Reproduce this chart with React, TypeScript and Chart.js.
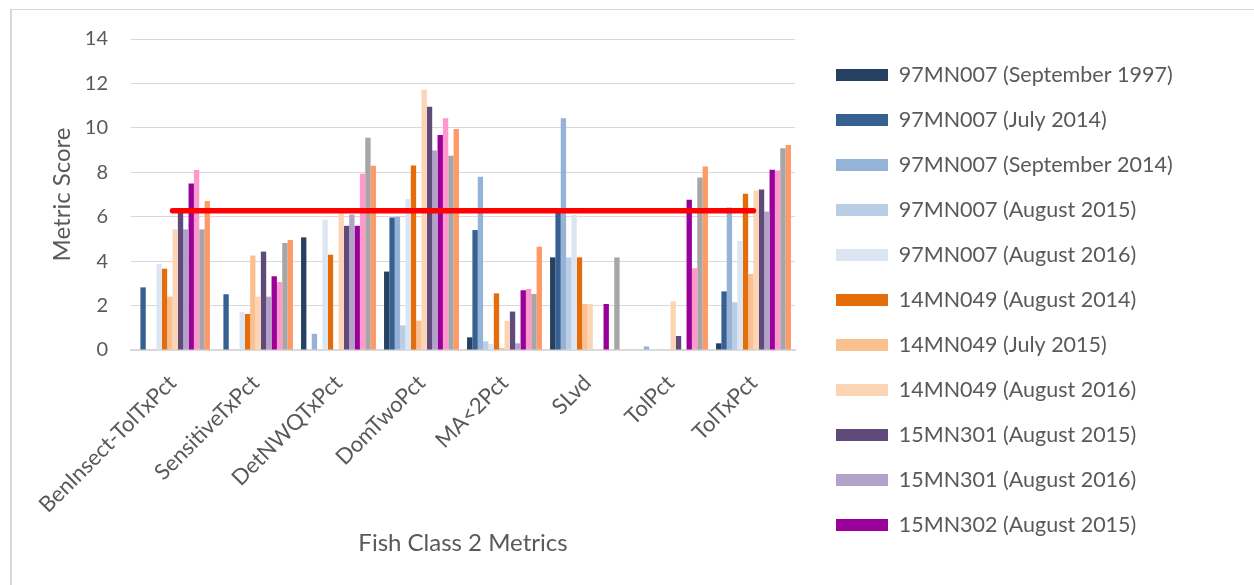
import React, { useEffect, useRef } from "react";
import { Chart, registerables } from "chart.js";

Chart.register(...registerables);

const categories = [
  "BenInsect-TolTxPct",
  "SensitiveTxPct",
  "DetNWQTxPct",
  "DomTwoPct",
  "MA<2Pct",
  "SLvd",
  "TolPct",
  "TolTxPct",
];

const seriesLabels = [
  "97MN007 (September 1997)",
  "97MN007 (July 2014)",
  "97MN007 (September 2014)",
  "97MN007 (August 2015)",
  "97MN007 (August 2016)",
  "14MN049 (August 2014)",
  "14MN049 (July 2015)",
  "14MN049 (August 2016)",
  "15MN301 (August 2015)",
  "15MN301 (August 2016)",
  "15MN302 (August 2015)",
  "Series 12",
  "Series 13",
  "Series 14",
];

const seriesColors = [
  "#254061",
  "#376092",
  "#95b3d7",
  "#b9cde5",
  "#dce6f2",
  "#e46c0a",
  "#fac090",
  "#fcd5b5",
  "#604a7b",
  "#b3a2c7",
  "#990099",
  "#ff99cc",
  "#a6a6a6",
  "#ff9966",
];

const s97Sep1997 = [0, 0, 5.07, 3.53, 0.57, 4.17, 0, 0.3];
const s97Jul2014 = [2.82, 2.51, 0, 5.96, 5.4, 6.2, 0, 2.64];
const s97Sep2014 = [0, 0, 0.73, 6.0, 7.8, 10.43, 0.16, 6.42];
const s97Aug2015 = [0, 0, 0, 1.11, 0.39, 4.17, 0, 2.15];
const s97Aug2016 = [3.87, 1.71, 5.86, 6.8, 0.27, 6.08, 0, 4.91];
const s14Aug2014 = [3.66, 1.62, 4.29, 8.3, 2.55, 4.17, 0, 7.03];
const s14Jul2015 = [2.4, 4.25, 0, 1.32, 0.09, 2.07, 0, 3.42];
const s14Aug2016 = [5.43, 2.4, 6.2, 11.71, 1.31, 2.07, 2.19, 7.18];
const s301Aug2015 = [6.2, 4.43, 5.59, 10.95, 1.73, 0, 0.63, 7.22];
const s301Aug2016 = [5.43, 2.4, 6.1, 8.98, 0.3, 0, 0, 6.23];
const s302Aug2015 = [7.5, 3.32, 5.59, 9.68, 2.69, 2.07, 6.76, 8.11];
const series12 = [8.1, 3.06, 7.93, 10.43, 2.75, 0, 3.68, 8.08];
const series13 = [5.43, 4.82, 9.56, 8.74, 2.52, 4.17, 7.76, 9.08];
const series14 = [6.71, 4.95, 8.29, 9.95, 4.65, 0, 8.26, 9.23];

const seriesValues = [
  s97Sep1997,
  s97Jul2014,
  s97Sep2014,
  s97Aug2015,
  s97Aug2016,
  s14Aug2014,
  s14Jul2015,
  s14Aug2016,
  s301Aug2015,
  s301Aug2016,
  s302Aug2015,
  series12,
  series13,
  series14,
];

const thresholdValue = 6.27;
const thresholdLine = categories.map(() => thresholdValue);

const yTicks = [0, 2, 4, 6, 8, 10, 12, 14];

const FONT = "Lato, 'Noto Sans', sans-serif";
const TEXT = "#595959";
const GRID = "#d9d9d9";
const W = 1254;
const H = 585;
const LEGEND_W = 441.5;

const borderPlugin = {
  id: "outerBorder",
  beforeLayout(chart: any) {
    const lg = chart.legend;
    if (lg && !lg.__patched) {
      const orig = lg.fit.bind(lg);
      lg.fit = function () {
        orig();
        this.width = LEGEND_W;
      };
      lg.__patched = true;
    }
  },
  beforeDraw(chart: any) {
    const ctx = chart.ctx;
    ctx.save();
    ctx.fillStyle = "#ffffff";
    ctx.fillRect(0, 0, W, H);
    ctx.strokeStyle = GRID;
    ctx.lineWidth = 2;
    ctx.beginPath();
    ctx.moveTo(11, H);
    ctx.lineTo(11, 9.5);
    ctx.stroke();
    ctx.lineWidth = 1;
    ctx.beginPath();
    ctx.moveTo(10, 9.5);
    ctx.lineTo(W, 9.5);
    ctx.stroke();
    ctx.restore();
  },
};

export default function App() {
  const canvasRef = useRef<HTMLCanvasElement | null>(null);

  useEffect(() => {
    if (!canvasRef.current) return;
    const barSets = seriesValues.map((vals, i) => ({
      type: "bar" as const,
      label: seriesLabels[i],
      data: vals,
      backgroundColor: seriesColors[i],
      borderWidth: 0,
      categoryPercentage: 0.9025,
      barPercentage: 1,
      order: 1,
      yAxisID: "y",
    }));
    const lineSet = {
      type: "line" as const,
      label: "Threshold",
      data: thresholdLine,
      borderColor: "#ff0000",
      backgroundColor: "#ff0000",
      borderWidth: 5.5,
      borderCapStyle: "round" as const,
      pointRadius: 0,
      pointHoverRadius: 0,
      fill: false,
      order: 0,
      yAxisID: "y",
    };
    const chart = new Chart(canvasRef.current, {
      type: "bar",
      data: {
        labels: categories,
        datasets: [...barSets, lineSet] as any,
      },
      options: {
        responsive: false,
        animation: false,
        events: [],
        layout: { padding: { top: 39, right: 0, bottom: 0, left: 0 } },
        plugins: {
          tooltip: { enabled: false },
          legend: {
            display: true,
            position: "right",
            align: "start",
            title: {
              display: true,
              text: " ",
              font: { family: FONT, size: 1 },
              padding: { top: 0, bottom: 0.55 },
            },
            labels: {
              color: TEXT,
              font: { family: FONT, size: 21.5 },
              boxWidth: 52,
              boxHeight: 12,
              padding: 23.5,
              filter: (item: any) => item.datasetIndex < 11,
            },
          },
        },
        scales: {
          x: {
            offset: true,
            grid: { display: false },
            border: { display: true, color: GRID, width: 2 },
            ticks: {
              color: TEXT,
              font: { family: FONT, size: 22 },
              maxRotation: 45,
              minRotation: 45,
              autoSkip: false,
              padding: 12,
            },
            title: {
              display: true,
              text: "Fish Class 2 Metrics",
              color: TEXT,
              font: { family: FONT, size: 24 },
              padding: { top: 0, bottom: 27.6 },
            },
            afterFit: (scale: any) => {
              scale.height = 235;
            },
          },
          y: {
            min: 0,
            max: 14,
            afterBuildTicks: (scale: any) => {
              scale.ticks = yTicks.map((v) => ({ value: v }));
            },
            grid: { color: GRID, lineWidth: 1, drawTicks: false },
            border: { display: false },
            ticks: {
              color: TEXT,
              font: { family: FONT, size: 20 },
              padding: 23,
            },
            title: {
              display: true,
              text: "Metric Score",
              color: TEXT,
              font: { family: FONT, size: 24 },
              padding: { top: 47.6, bottom: 0 },
            },
            afterFit: (scale: any) => {
              scale.width = 131;
            },
          },
          ySpacer: {
            position: "right",
            display: true,
            grid: { display: false },
            border: { display: false },
            ticks: { display: false },
            afterFit: (scale: any) => {
              scale.width = 17.5;
            },
          },
        },
      },
      plugins: [borderPlugin],
    } as any);
    return () => chart.destroy();
  }, []);

  return (
    <div style={{ position: "absolute", left: 0, top: 0, width: W, height: H, overflow: "hidden", background: "#fff" }}>
      <canvas ref={canvasRef} width={W} height={H} style={{ width: W, height: H, display: "block" }} />
    </div>
  );
}
